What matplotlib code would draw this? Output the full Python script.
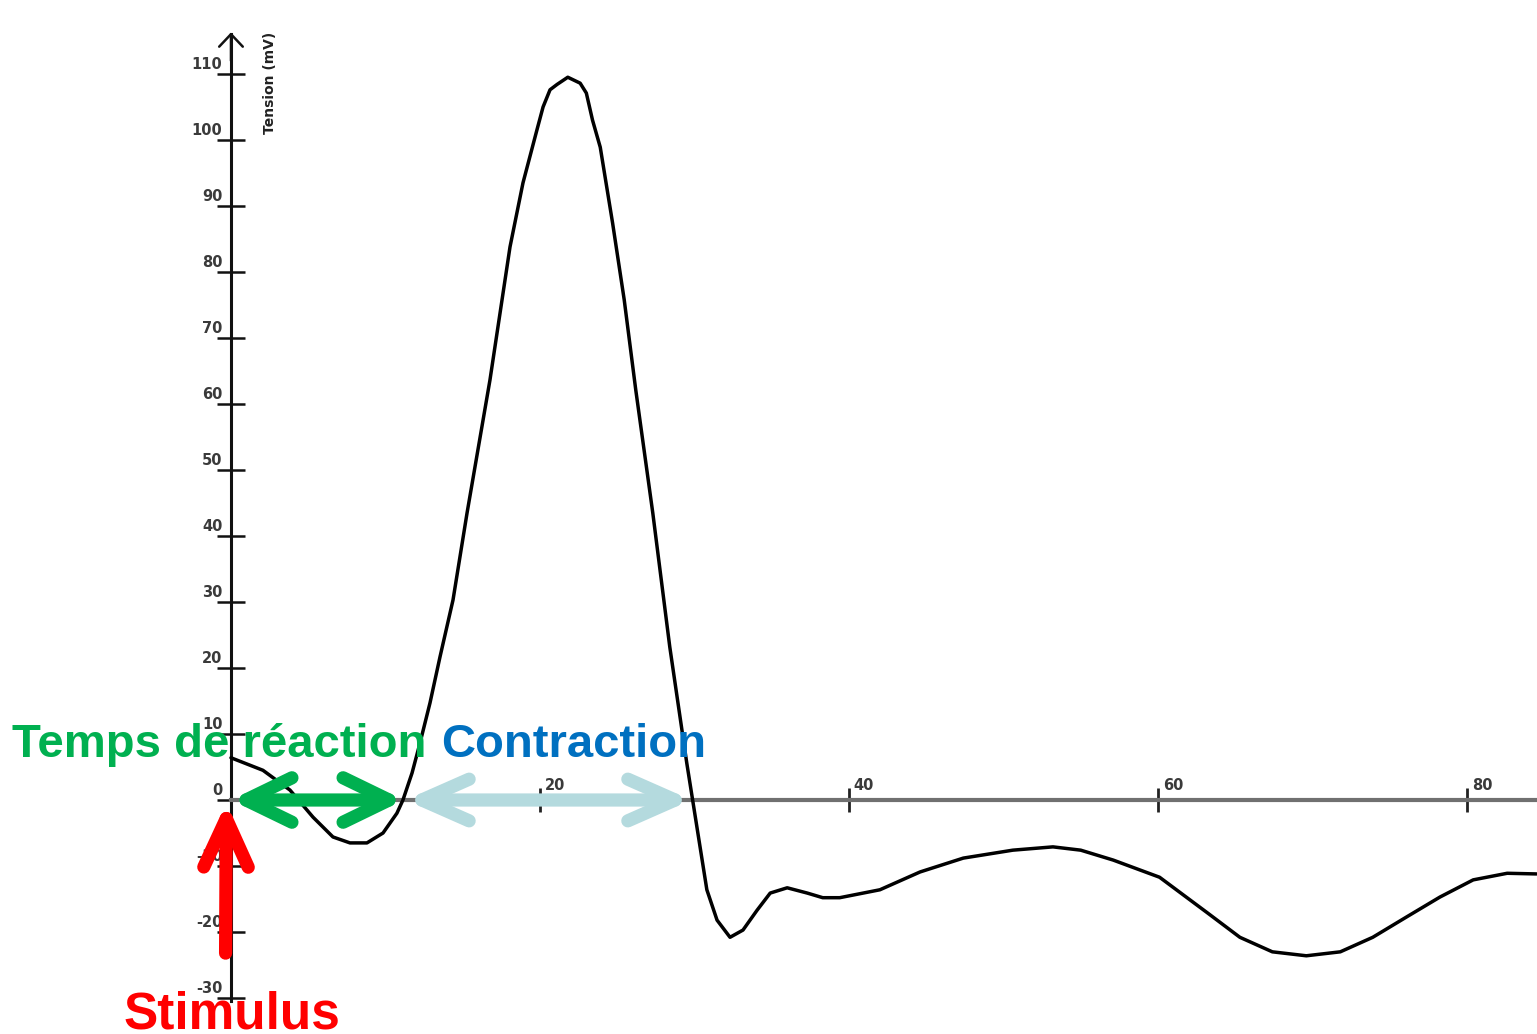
import matplotlib.pyplot as plt

temps = [0, 2.07, 3.82, 5.31, 6.6, 7.7, 8.8, 9.84, 10.74, 11.13, 11.72, 12.23,
         12.88, 13.53, 14.37, 15.28, 16.76, 18.06, 18.9, 19.8, 20.2, 20.65,
         21.1, 21.8, 22.6, 23.0, 23.4, 23.9, 24.7, 25.45, 26.2, 27.3, 28.4,
         29.5, 29.9, 30.36, 30.8, 31.46, 32.3, 33.14, 34.05, 34.9, 36.0, 37.3,
         38.3, 39.4, 42.0, 44.6, 47.4, 50.6, 53.2, 55.0, 57.1, 60.1, 63.2,
         65.3, 67.4, 69.6, 71.8, 73.9, 76.1, 78.25, 80.4, 82.6, 84.5]
tension = [6.4, 4.5, 1.5, -2.6, -5.6, -6.5, -6.5, -5.0, -2.0, 0.0, 4.1, 8.6,
           14.7, 21.7, 30.3, 43.5, 63.6, 83.8, 93.5, 101.5, 105.0, 107.6,
           108.4, 109.5, 108.6, 107.1, 103.0, 98.9, 87.4, 75.8, 62.1, 43.5,
           23.2, 5.6, -0.3, -7.1, -13.6, -18.2, -20.8, -19.7, -16.7, -14.1,
           -13.3, -14.1, -14.8, -14.8, -13.6, -10.9, -8.8, -7.6, -7.1, -7.6,
           -9.1, -11.7, -17.1, -20.8, -23.0, -23.6, -23.0, -20.8, -17.7, -14.7,
           -12.1, -11.1, -11.2]

x_ticks = [20, 40, 60, 80]
y_ticks = [-30, -20, -10, 0, 10, 20, 30, 40, 50, 60, 70, 80, 90, 100, 110]

t_stimulus = 0
t_debut_contraction = 11.2
t_fin_contraction = 29.8

vert = '#00B050'
bleu = '#0070C0'
rouge = '#FF0000'
bleu_clair = '#B4DADE'

fig = plt.figure(figsize=(15.37, 10.34), dpi=100)
ax = fig.add_axes([0, 0, 1, 1])
ax.set_xlim(-14.95, 84.53)
ax.set_ylim(-35.45, 121.2)

ax.spines['top'].set_visible(False)
ax.spines['right'].set_visible(False)
ax.spines['left'].set_position(('data', 0))
ax.spines['left'].set_bounds(-30.5, 116)
ax.spines['left'].set_linewidth(2.2)
ax.spines['left'].set_color('#111111')
ax.spines['bottom'].set_position(('data', 0))
ax.spines['bottom'].set_bounds(0, 84.53)
ax.spines['bottom'].set_linewidth(3)
ax.spines['bottom'].set_color('#707070')

ax.set_xticks(x_ticks)
ax.set_yticks(y_ticks)
ax.tick_params(axis='y', direction='inout', length=20, width=1.8,
               color='#111111', labelleft=False)
ax.tick_params(axis='x', direction='inout', length=17, width=2,
               color='#222222', labelbottom=False)

for v in y_ticks:
    ax.text(-0.55, v + 0.8, str(v), ha='right', va='baseline',
            fontsize=10.5, fontweight='bold', color='#3a3a3a')
for v in x_ticks:
    ax.text(v + 0.3, 1.5, str(v), ha='left', va='baseline',
            fontsize=10.5, fontweight='bold', color='#3a3a3a')

ax.text(2.5, 108.6, 'Tension (mV)', rotation=90, ha='center', va='center',
        fontsize=10, fontweight='bold', color='#222222')

# fleche en haut de l'axe des ordonnees
ax.annotate('', xy=(0, 116.3), xytext=(0, 112),
            arrowprops=dict(arrowstyle='->,head_length=0.9,head_width=0.85',
                            lw=1.8, color='#111111', shrinkA=0, shrinkB=0))

ax.plot(temps, tension, color='black', lw=2.5, zorder=3,
        solid_joinstyle='round', solid_capstyle='round')

# fleches d'annotation
style = dict(lw=9.5, shrinkA=0, shrinkB=0, capstyle='round', joinstyle='round')
ax.annotate('', xy=(t_debut_contraction, 0), xytext=(t_stimulus, 0),
            arrowprops=dict(arrowstyle='<->,head_length=3.3,head_width=1.6',
                            color=vert, **style), zorder=5)
ax.annotate('', xy=(t_fin_contraction, 0), xytext=(t_debut_contraction + 0.1, 0),
            arrowprops=dict(arrowstyle='<->,head_length=3.4,head_width=1.5',
                            color=bleu_clair, **style), zorder=5)
ax.annotate('', xy=(t_stimulus - 0.3, -0.4), xytext=(t_stimulus - 0.35, -23.2),
            arrowprops=dict(arrowstyle='->,head_length=3.5,head_width=1.6',
                            color=rouge, **style), zorder=6)

police = ['Liberation Sans', 'DejaVu Sans']
ax.text(-14.2, 6.5, 'Temps de réaction', color=vert, fontsize=34,
        fontweight='bold', family=police, va='baseline', zorder=7)
ax.text(13.6, 6.5, 'Contraction', color=bleu, fontsize=34,
        fontweight='bold', family=police, va='baseline', zorder=7)
ax.text(-6.93, -34.6, 'Stimulus', color=rouge, fontsize=37,
        fontweight='bold', family=police, va='baseline', zorder=7)

fig.savefig('out.png', dpi=100)
